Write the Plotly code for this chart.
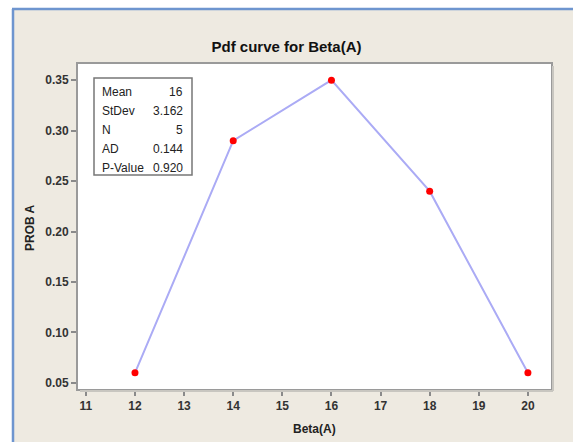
import plotly.graph_objects as go

beta = [12, 14, 16, 18, 20]
prob = [0.06, 0.29, 0.35, 0.24, 0.06]
stat_labels = ["Mean", "StDev", "N", "AD", "P-Value"]
stat_values = ["16", "3.162", "5", "0.144", "0.920"]

W, H = 573, 442
L, R, T, B = 78, 551, 64, 389  # plot area in pixels


def px(x):
    return (x - L) / (R - L)


def py(y):
    return (B - y) / (B - T)


FONT = "Liberation Sans"
BG = "#EEEAE1"

fig = go.Figure()
fig.add_trace(go.Scatter(
    x=beta, y=prob, mode="lines+markers",
    line=dict(color="#ABABF5", width=2),
    marker=dict(color="#FF0000", size=7),
    showlegend=False, cliponaxis=False,
))

shapes = [
    dict(type="rect", xref="paper", yref="paper", x0=px(-5), x1=px(12), y0=py(H + 5), y1=py(-5),
         fillcolor="white", line=dict(width=0), layer="below"),
    dict(type="rect", xref="paper", yref="paper", x0=px(-5), x1=px(W + 5), y0=py(8), y1=py(-5),
         fillcolor="white", line=dict(width=0), layer="below"),
    dict(type="line", xref="paper", yref="paper", x0=px(13), x1=px(13), y0=py(9), y1=py(H + 5),
         line=dict(color="#6E95CF", width=2.5)),
    dict(type="line", xref="paper", yref="paper", x0=px(12), x1=px(W + 5), y0=py(9), y1=py(9),
         line=dict(color="#6E95CF", width=2.5)),
    dict(type="line", xref="paper", yref="paper", x0=px(R + 2), x1=px(R + 2), y0=py(T + 2), y1=py(B + 2),
         line=dict(color="#C8C6C0", width=2)),
    dict(type="line", xref="paper", yref="paper", x0=px(L + 2), x1=px(R + 2), y0=py(B + 2), y1=py(B + 2),
         line=dict(color="#C8C6C0", width=2)),
    dict(type="rect", xref="paper", yref="paper", x0=px(94), x1=px(192), y0=py(175), y1=py(78),
         line=dict(color="#777777", width=1.5), fillcolor="rgba(0,0,0,0)"),
]

annotations = []
row_y = [92, 111, 130, 149, 168]
for lab, val, yy in zip(stat_labels, stat_values, row_y):
    annotations.append(dict(xref="paper", yref="paper", x=px(100), y=py(yy), text=lab,
                            showarrow=False, xanchor="left", yanchor="middle",
                            font=dict(family=FONT, size=12, color="#222222")))
    annotations.append(dict(xref="paper", yref="paper", x=px(185), y=py(yy), text=val,
                            showarrow=False, xanchor="right", yanchor="middle",
                            font=dict(family=FONT, size=12, color="#222222")))

annotations.append(dict(xref="paper", yref="paper", x=px(314), y=py(429), text="<b>Beta(A)</b>",
                        showarrow=False, xanchor="center", yanchor="middle",
                        font=dict(family=FONT, size=12, color="#222222")))
annotations.append(dict(xref="paper", yref="paper", x=px(30), y=py(228), text="<b>PROB A</b>",
                        showarrow=False, xanchor="center", yanchor="middle", textangle=-90,
                        font=dict(family=FONT, size=12, color="#222222")))

fig.update_layout(
    width=W, height=H,
    margin=dict(l=L, r=W - R, t=T, b=H - B, pad=0),
    paper_bgcolor=BG, plot_bgcolor="white",
    title=dict(text="<b>Pdf curve for Beta(A)</b>", x=0.5, xref="container", xanchor="center",
               y=1 - 47 / H, yref="container", yanchor="middle",
               font=dict(family=FONT, size=15, color="#111111")),
    shapes=shapes, annotations=annotations,
    xaxis=dict(range=[10.84, 20.47], tickmode="linear", tick0=11, dtick=1,
               showgrid=False, zeroline=False, showline=True, mirror=True,
               linecolor="#9A9A9A", linewidth=2, ticks="outside", ticklen=5,
               tickcolor="#8A8A8A", tickwidth=1.5,
               tickfont=dict(family=FONT, size=12, color="#333333", weight="bold")),
    yaxis=dict(range=[0.044, 0.366], tickmode="linear", tick0=0.05, dtick=0.05, tickformat=".2f",
               showgrid=False, zeroline=False, showline=True, mirror=True,
               linecolor="#9A9A9A", linewidth=2, ticks="outside", ticklen=5,
               tickcolor="#8A8A8A", tickwidth=1.5,
               tickfont=dict(family=FONT, size=12, color="#333333", weight="bold")),
)

fig.write_html("out.html")
